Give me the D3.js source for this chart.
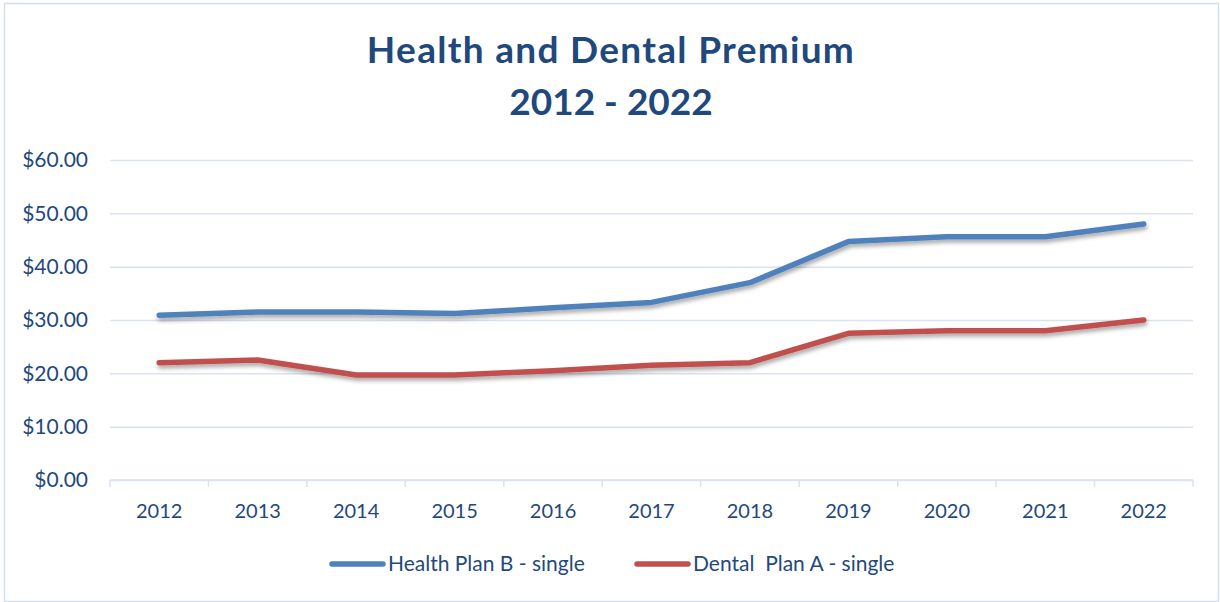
<!DOCTYPE html>
<html>
<head>
<meta charset="utf-8">
<script src="https://cdn.jsdelivr.net/npm/d3@7"></script>
<style>
  body { margin: 0; background: #fff; }
  text { font-family: Lato, "Open Sans", sans-serif; fill: #1F497D; }
</style>
</head>
<body>
<svg id="chart" width="1220" height="602"></svg>
<script>
// data
const years = ["2012", "2013", "2014", "2015", "2016", "2017", "2018", "2019", "2020", "2021", "2022"];
const healthB = [30.9, 31.5, 31.5, 31.2, 32.3, 33.3, 37.0, 44.7, 45.6, 45.6, 48.0];
const dentalA = [22.0, 22.5, 19.7, 19.7, 20.5, 21.5, 22.0, 27.5, 28.0, 28.0, 30.0];
const yTicks = [0, 10, 20, 30, 40, 50, 60];
const seriesNames = ["Health Plan B - single", "Dental  Plan A - single"];
const colors = ["#4F81BD", "#C0504D"];

const width = 1220, height = 602;
const margin = { top: 160, right: 27, bottom: 122, left: 110 };

const svg = d3.select("#chart");

// drop shadow under the lines
const defs = svg.append("defs");
defs.append("filter")
    .attr("id", "shadow")
    .attr("x", "-5%").attr("y", "-50%")
    .attr("width", "110%").attr("height", "200%")
  .append("feDropShadow")
    .attr("dx", 1).attr("dy", 3)
    .attr("stdDeviation", 2)
    .attr("flood-color", "#000")
    .attr("flood-opacity", 0.35);

// chart frame
svg.append("rect")
    .attr("x", 4.5).attr("y", 3.5)
    .attr("width", width - 6).attr("height", height - 4)
    .attr("fill", "none")
    .attr("stroke", "#D3DFEE")
    .attr("stroke-width", 1.5);

// Title
svg.append("text")
    .attr("x", 611).attr("y", 63)
    .attr("text-anchor", "middle")
    .style("font-size", "37px").style("font-weight", "bold")
    .style("letter-spacing", "1.3px")
    .text("Health and Dental Premium");
svg.append("text")
    .attr("x", 611).attr("y", 115)
    .attr("text-anchor", "middle")
    .style("font-size", "37px").style("font-weight", "bold")
    .text("2012 - 2022");

// Scales
const x = d3.scaleBand()
    .domain(years)
    .range([margin.left, width - margin.right]);

const y = d3.scaleLinear()
    .domain([0, 60])
    .range([height - margin.bottom, margin.top]);

// gridlines + y labels
const yAxis = svg.append("g")
    .attr("transform", `translate(${margin.left},0)`)
    .call(d3.axisLeft(y)
        .tickValues(yTicks)
        .tickSize(-(width - margin.left - margin.right))
        .tickPadding(22)
        .tickFormat(d => "$" + d3.format(".2f")(d)));
yAxis.select(".domain").remove();
yAxis.selectAll(".tick line")
    .attr("stroke", "#D9E3F1")
    .attr("stroke-width", 1.5);
yAxis.selectAll(".tick text")
    .style("font-size", "21px")
    .attr("fill", "#1F497D");

// x axis with ticks at band edges
const xAxisG = svg.append("g")
    .attr("transform", `translate(0,${height - margin.bottom})`);
xAxisG.append("line")
    .attr("x1", margin.left).attr("x2", width - margin.right)
    .attr("stroke", "#D9E3F1").attr("stroke-width", 1.5);
const edges = years.map(d => x(d)).concat([x(years[years.length - 1]) + x.bandwidth()]);
xAxisG.selectAll(".edge")
    .data(edges)
    .join("line")
      .attr("class", "edge")
      .attr("x1", d => d).attr("x2", d => d)
      .attr("y1", 0).attr("y2", 7)
      .attr("stroke", "#D9E3F1").attr("stroke-width", 1.5);
xAxisG.selectAll(".lbl")
    .data(years)
    .join("text")
      .attr("class", "lbl")
      .attr("x", d => x(d) + x.bandwidth() / 2)
      .attr("y", 38)
      .attr("text-anchor", "middle")
      .style("font-size", "20px")
      .text(d => d);

// Lines
const line = d3.line()
    .x((d, i) => x(years[i]) + x.bandwidth() / 2)
    .y(d => y(d));

[healthB, dentalA].forEach(function(series, i) {
  svg.append("path")
      .datum(series)
      .attr("fill", "none")
      .attr("stroke", colors[i])
      .attr("stroke-width", 5.5)
      .attr("stroke-linejoin", "round")
      .attr("stroke-linecap", "round")
      .attr("filter", "url(#shadow)")
      .attr("d", line);
});

// Legend
const legendX = [330, 635];
const legend = svg.append("g").attr("transform", "translate(0,564)");
seriesNames.forEach(function(name, i) {
  legend.append("line")
      .attr("x1", legendX[i] + 2).attr("x2", legendX[i] + 53)
      .attr("stroke", colors[i])
      .attr("stroke-width", 5.5)
      .attr("stroke-linecap", "round");
  legend.append("text")
      .attr("x", legendX[i] + 58)
      .attr("y", 7)
      .style("font-size", "21px")
      .style("white-space", "pre")
      .attr("xml:space", "preserve")
      .text(name);
});
</script>
</body>
</html>
